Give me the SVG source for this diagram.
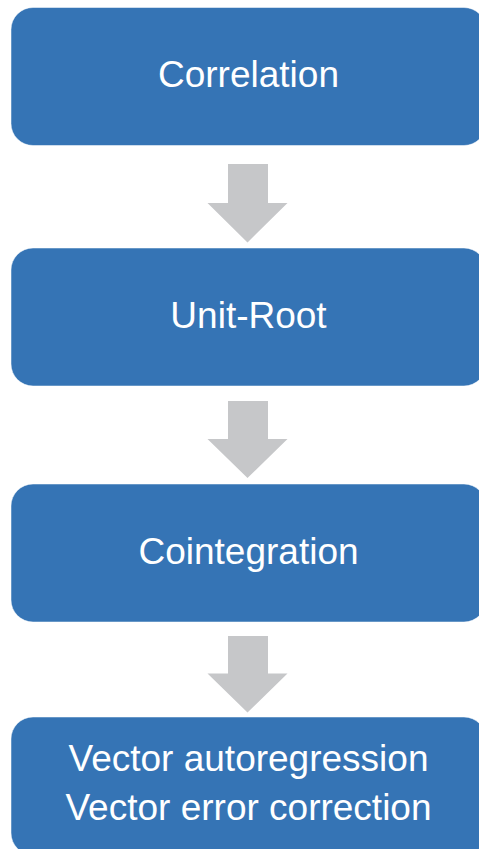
<svg xmlns="http://www.w3.org/2000/svg" width="479" height="849" viewBox="0 0 479 849">
  <style>
    .box { fill: #3574b5; stroke: #ffffff; stroke-opacity: 0.5; stroke-width: 1; }
    .label { fill: #ffffff; font-family: "Liberation Sans", Arial, sans-serif; font-size: 37px; text-anchor: middle; }
    .arrow { fill: #c6c7c9; }
  </style>
  <rect width="479" height="849" fill="#ffffff"/>

  <!-- process steps -->
  <g id="node-correlation">
    <rect class="box" x="11" y="7.5" width="475" height="138" rx="22" ry="22"/>
    <text class="label" x="248.5" y="87">Correlation</text>
  </g>
  <g id="node-unit-root">
    <rect class="box" x="11" y="248" width="475" height="138" rx="22" ry="22"/>
    <text class="label" x="248.5" y="327.5">Unit-Root</text>
  </g>
  <g id="node-cointegration">
    <rect class="box" x="11" y="484" width="475" height="138" rx="22" ry="22"/>
    <text class="label" x="248.5" y="563.5">Cointegration</text>
  </g>
  <g id="node-var-vec">
    <rect class="box" x="11" y="717" width="475" height="138" rx="22" ry="22"/>
    <text class="label" x="248.5" y="771">Vector autoregression</text>
    <text class="label" x="248.5" y="820">Vector error correction</text>
  </g>

  <!-- block arrows between steps -->
  <g id="connectors">
    <polygon class="arrow" points="228,164 268,164 268,203 287.5,203 247.5,242.5 207.5,203 228,203"/>
    <polygon class="arrow" points="228,401 268,401 268,439 287.5,439 247.5,478 207.5,439 228,439"/>
    <polygon class="arrow" points="228,636 268,636 268,673.5 287.5,673.5 247.5,712.5 207.5,673.5 228,673.5"/>
  </g>
</svg>
